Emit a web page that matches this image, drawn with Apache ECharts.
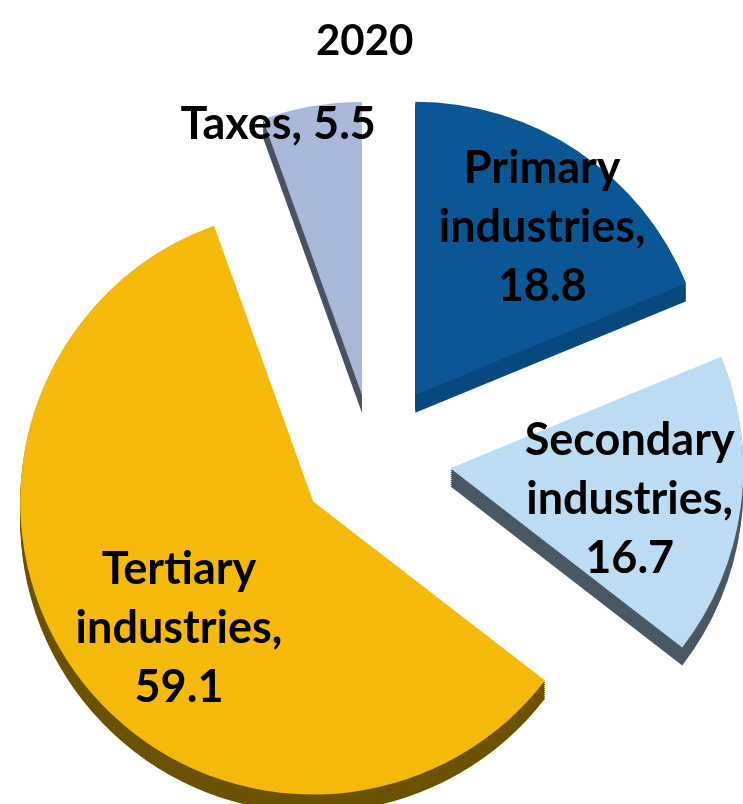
<!DOCTYPE html>
<html>
<head>
<meta charset="utf-8">
<script src="https://cdn.jsdelivr.net/npm/echarts@6/dist/echarts.min.js"></script>
<style>
  html, body { margin: 0; padding: 0; background: #ffffff; }
  #chart { width: 743px; height: 804px; }
</style>
</head>
<body>
<div id="chart"></div>
<script>
// Value-added shares by sector, 2020
const chartTitle = '2020';
const categories = ['Primary industries', 'Secondary industries', 'Tertiary industries', 'Taxes'];
const values = [18.8, 16.7, 59.1, 5.5];

// Styling per slice (top face, extruded side, explode distance, label radius)
const faceColors = ['#0b5795', '#bcdcf4', '#f4b90a', '#a9b8d8'];
const sideColors = ['#07487f', '#4a5866', '#6b5200', '#4a5262'];
const explodeBy = [76, 78, 74, 64];
const labelRadius = [207, 181, 184, 281];
const labelNudge = [[10, 7], [-3, 7], [17, 17], [-35, 9]];

const CX = 373, CY = 458, R = 293, DEPTH = 18, STEP = 2;
const FONT = 'Lato, "Open Sans", sans-serif';

function labelText(p) {
  const v = p.value.toFixed(1);
  const sp = p.name.indexOf(' ');
  return sp < 0 ? p.name + ', ' + v
                : p.name.slice(0, sp) + '\n' + p.name.slice(sp + 1) + ',\n' + v;
}

// One pie per slice so each slice can be pulled out by its own distance;
// the other slices of that pie are left fully transparent.
function slicePie(k, cy, radius, color, withLabel, z) {
  return {
    type: 'pie',
    center: [CX, cy],
    radius: radius,
    startAngle: 90,
    clockwise: true,
    selectedMode: 'multiple',
    selectedOffset: explodeBy[k],
    silent: true,
    animation: false,
    avoidLabelOverlap: false,
    z: z,
    emphasis: { disabled: true },
    itemStyle: { borderWidth: 0 },
    labelLine: { show: false },
    label: {
      show: false,
      position: 'inside',
      formatter: labelText,
      color: '#000000',
      fontFamily: FONT,
      fontWeight: 'bold',
      fontSize: 45,
      lineHeight: 59
    },
    labelLayout: withLabel ? function (p) {
      return p.dataIndex === k ? { dx: labelNudge[k][0], dy: labelNudge[k][1] } : {};
    } : undefined,
    data: values.map((v, i) => ({
      name: categories[i],
      value: v,
      selected: i === k,
      itemStyle: { color: i === k ? color : 'rgba(0,0,0,0)' },
      label: { show: withLabel && i === k }
    }))
  };
}

const series = [];
// extruded sides: stacked copies shifted downward
for (let k = 0; k < values.length; k++) {
  for (let d = DEPTH; d > 0; d -= STEP) {
    series.push(slicePie(k, CY + d, [0, R], sideColors[k], false, 1));
  }
}
// top faces
for (let k = 0; k < values.length; k++) {
  series.push(slicePie(k, CY, [0, R], faceColors[k], false, 2));
}
// labels, carried by transparent pies sized so the inside label sits at labelRadius
for (let k = 0; k < values.length; k++) {
  series.push(slicePie(k, CY, [0, labelRadius[k] * 2], 'rgba(0,0,0,0)', true, 3));
}

const chart = echarts.init(document.getElementById('chart'), null, { renderer: 'canvas' });
chart.setOption({
  animation: false,
  backgroundColor: '#ffffff',
  title: {
    text: chartTitle,
    left: 311,
    top: 15,
    textStyle: { fontFamily: FONT, fontWeight: 'bold', fontSize: 42, color: '#000000' }
  },
  series: series
});
</script>
</body>
</html>
